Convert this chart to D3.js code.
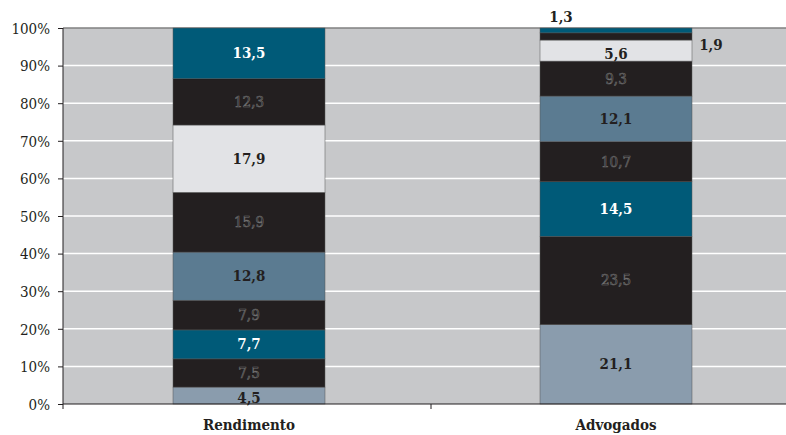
<!DOCTYPE html>
<html>
<head>
<meta charset="utf-8">
<script src="https://cdn.jsdelivr.net/npm/d3@7"></script>
<style>
  body { margin: 0; background: #fff; }
</style>
</head>
<body>
<div class="chart-box"></div>
<script>
var categories = ["Rendimento", "Advogados"];
var rendimento = [4.5, 7.5, 7.7, 7.9, 12.8, 15.9, 17.9, 12.3, 13.5];
var advogados = [21.1, 23.5, 14.5, 10.7, 12.1, 9.3, 5.6, 1.9, 1.3];
var segColors = ["#8a9cad", "#231f20", "#005a78", "#231f20", "#5b7b91", "#231f20", "#e2e3e6", "#231f20", "#005a78"];
var labelStyle = ["bold", "outline", "white", "outline", "bold", "outline", "bold", "outline", "white"];
var yTicks = [0, 10, 20, 30, 40, 50, 60, 70, 80, 90, 100];

var serif = "'DejaVu Serif Condensed', 'DejaVu Serif', serif";
var margin = {top: 28, right: 0, bottom: 31, left: 63};
var width = 736, height = 376;

var svg = d3.select(".chart-box").append("svg")
    .attr("width", 786)
    .attr("height", 435)
  .append("g")
    .attr("transform", "translate(" + margin.left + "," + margin.top + ")");

var x = d3.scaleBand().domain(categories).range([0, width]).paddingInner(0.587).paddingOuter(0.2935);
var y = d3.scaleLinear().domain([0, 100]).range([height, 0]);

svg.append("rect")
    .attr("width", width).attr("height", height)
    .attr("fill", "#c7c8ca");

svg.selectAll(".grid")
    .data(yTicks.slice(1, -1))
  .enter().append("line")
    .attr("x1", 0).attr("x2", width)
    .attr("y1", function(d) { return y(d); })
    .attr("y2", function(d) { return y(d); })
    .attr("stroke", "#fff").attr("stroke-width", 1.5);

svg.append("line")
    .attr("x1", 0).attr("x2", width)
    .attr("y1", y(100)).attr("y2", y(100))
    .attr("stroke", "#808080").attr("stroke-width", 1.5);

var series = [rendimento, advogados];
var stacked = series.map(function(vals, ci) {
  var acc = 0;
  return vals.map(function(v, i) {
    var d = {cat: categories[ci], i: i, v: v, y0: acc, y1: acc + v};
    acc += v;
    return d;
  });
});
var segs = stacked[0].concat(stacked[1]);

svg.selectAll(".bar")
    .data(segs)
  .enter().append("rect")
    .attr("class", "bar")
    .attr("x", function(d) { return x(d.cat) + (d.cat == "Rendimento" ? 2 : 1); })
    .attr("width", x.bandwidth())
    .attr("y", function(d) { return y(d.y1); })
    .attr("height", function(d) { return y(d.y0) - y(d.y1); })
    .attr("fill", function(d) { return segColors[d.i]; })
    .attr("stroke", "#555").attr("stroke-width", 0.5);

function fmt(v) { return String(v.toFixed(1)).replace(".", ","); }
function isOutside(d) { return d.cat == "Advogados" && d.i >= 7; }
function cx(d) { return x(d.cat) + x.bandwidth() / 2 + (d.cat == "Rendimento" ? 2 : 1); }

svg.selectAll(".lbl")
    .data(segs)
  .enter().append("text")
    .attr("class", "lbl")
    .attr("text-anchor", "middle")
    .attr("font-size", 15)
    .attr("x", function(d) {
      if (d.cat == "Advogados" && d.i == 7) return x(d.cat) + x.bandwidth() + 20;
      if (d.cat == "Advogados" && d.i == 8) return x(d.cat) + 22;
      return cx(d);
    })
    .attr("y", function(d) {
      if (d.cat == "Advogados" && d.i == 7) return y(d.y1) + 17;
      if (d.cat == "Advogados" && d.i == 8) return y(100) - 6;
      if (d.cat == "Rendimento" && d.i == 0) return y(0) - 1;
      if (d.cat == "Advogados" && d.i == 6) return y((d.y0 + d.y1) / 2) + 8;
      return y((d.y0 + d.y1) / 2) + 5;
    })
    .attr("fill", function(d) {
      if (isOutside(d)) return "#231f20";
      return labelStyle[d.i] == "white" ? "#fff" : "#231f20";
    })
    .attr("stroke", function(d) {
      if (isOutside(d)) return "none";
      return labelStyle[d.i] == "outline" ? "#707070" : "none";
    })
    .attr("stroke-width", 0.6)
    .attr("font-weight", function(d) { return labelStyle[d.i] == "outline" && !isOutside(d) ? "normal" : "bold"; })
    .text(function(d) { return fmt(d.v); });

var yAxis = svg.append("g")
    .call(d3.axisLeft(y).tickValues(yTicks).tickSize(5).tickFormat(function(d) { return d + "%"; }));
yAxis.attr("font-family", serif).attr("font-size", 15);
yAxis.select(".domain").attr("stroke", "#231f20").attr("d", "M0," + height + "V0");
yAxis.selectAll(".tick line").attr("stroke", "#231f20");
yAxis.selectAll(".tick text")
    .attr("fill", "#231f20").attr("x", -13).attr("dy", "0.35em");

svg.append("line")
    .attr("x1", 0).attr("x2", width)
    .attr("y1", height).attr("y2", height)
    .attr("stroke", "#231f20").attr("stroke-width", 1.2);

svg.selectAll(".xtick")
    .data([0, width / 2])
  .enter().append("line")
    .attr("x1", function(d) { return d; }).attr("x2", function(d) { return d; })
    .attr("y1", height).attr("y2", height + 5)
    .attr("stroke", "#231f20");

svg.selectAll(".xlbl")
    .data(categories)
  .enter().append("text")
    .attr("text-anchor", "middle")
    .attr("x", function(d) { return x(d) + x.bandwidth() / 2 + (d == "Rendimento" ? 2 : 1); })
    .attr("y", height + 26)
    .attr("font-size", 15).attr("font-weight", "bold").attr("fill", "#231f20")
    .text(function(d) { return d; });

svg.selectAll("text").attr("font-family", serif);
</script>
</body>
</html>
